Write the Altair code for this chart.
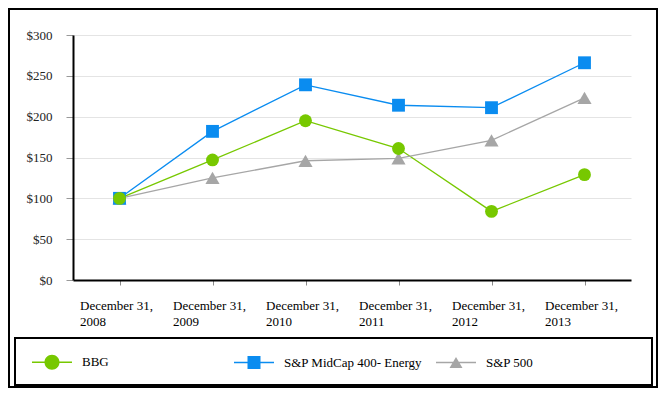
import altair as alt
import pandas as pd

# ---- data ----
years = ["2008", "2009", "2010", "2011", "2012", "2013"]
x_label_prefix = "December 31,"
series_names = ["BBG", "S&P MidCap 400- Energy", "S&P 500"]
bbg = [100, 147, 195, 161, 84, 129]
midcap = [100, 182, 239, 214, 211, 266]
sp500 = [100, 125, 146, 149, 171, 223]
y_ticks = [0, 50, 100, 150, 200, 250, 300]
colors = ["#77C800", "#0A8CF0", "#A6A6A6"]
marker_shapes = ["circle", "square", "triangle-up"]
marker_sizes = [165, 165, 200]

rows = []
for name, vals in zip(series_names, [bbg, midcap, sp500]):
    for yr, v in zip(years, vals):
        rows.append({"series": name, "year": yr, "value": v})
df = pd.DataFrame(rows)
one = pd.DataFrame({"k": [0]})

SERIF = "Liberation Serif, Times New Roman, serif"

# legend symbols: a line segment with the series marker on it (unit box -1..1)
bar = "M-1,-0.04H1V0.04H-1Z"
circle_p = "M0.375,0A0.375,0.375,0,1,1,-0.375,0A0.375,0.375,0,1,1,0.375,0Z"
square_p = "M-0.325,-0.325H0.325V0.325H-0.325Z"
tri_p = "M0,-0.28L0.325,0.28L-0.325,0.28Z"
legend_paths = [bar + circle_p, bar + square_p, bar + tri_p]

x_axis = alt.Axis(
    title=None, labelAngle=0, labelAlign="left", labelOffset=-40,
    labelBaseline="top", labelPadding=14, labelLineHeight=16,
    labelFont=SERIF, labelFontSize=13, labelColor="#000000",
    labelExpr="['" + x_label_prefix + "', '\u00a0' + datum.label]",
    labelOverlap=False, labelBound=False,
    tickColor="#8a8a8a", tickSize=5, tickWidth=1,
    domainColor="#000000", domainWidth=2, grid=False,
)
y_axis = alt.Axis(
    title=None, values=y_ticks, format="$.0f",
    labelFont=SERIF, labelFontSize=13, labelColor="#222222", labelPadding=14,
    tickColor="#999999", tickSize=7, tickWidth=1,
    domainColor="#000000", domainWidth=2,
    grid=True, gridColor="#e4e4e4", gridWidth=1,
)

X = alt.X("year:N", sort=years, scale=alt.Scale(type="point", padding=0.5), axis=x_axis)
Y = alt.Y("value:Q", scale=alt.Scale(domain=[0, 300], nice=False), axis=y_axis)
base = alt.Chart(df).encode(x=X, y=Y)

line_layers = []
point_layers = []
for name, col, shp, sz in zip(series_names, colors, marker_shapes, marker_sizes):
    sub = base.transform_filter(alt.datum.series == name)
    line_layers.append(sub.mark_line(strokeWidth=1.3, color=col))
    point_layers.append(sub.mark_point(shape=shp, filled=True, size=sz, opacity=1, color=col))
# draw order of markers: triangles, squares, circles on top
point_layers = point_layers[::-1]

leg = alt.Legend(
    title=None, orient="none", legendX=-41, legendY=307,
    direction="horizontal", columns=3, gridAlign="all", columnPadding=13,
    symbolSize=1600, symbolStrokeWidth=0, symbolOpacity=1, labelOffset=10,
    labelFont=SERIF, labelFontSize=13, labelColor="#000000", padding=0,
)
# invisible marks that only carry the legend
legend_layer = base.mark_point(filled=True).encode(
    color=alt.Color("series:N", scale=alt.Scale(domain=series_names, range=colors), legend=leg),
    shape=alt.Shape("series:N", scale=alt.Scale(domain=series_names, range=legend_paths), legend=leg),
    opacity=alt.value(0),
)

outer_frame = alt.Chart(one).mark_rect(fill="transparent", stroke="#000000", strokeWidth=2).encode(
    x=alt.value(-64), x2=alt.value(584), y=alt.value(-26), y2=alt.value(352))
legend_box = alt.Chart(one).mark_rect(fill="transparent", stroke="#000000", strokeWidth=2).encode(
    x=alt.value(-58), x2=alt.value(579), y=alt.value(303), y2=alt.value(350))

chart = alt.layer(outer_frame, legend_box, *line_layers, *point_layers, legend_layer).properties(
    width=558, height=245,
    autosize=alt.AutoSizeParams(type="none"),
    padding={"left": 65, "top": 27, "right": 27, "bottom": 108},
).configure_view(stroke=None)

chart.save("out.html", embed_options={"renderer": "svg", "actions": False})
